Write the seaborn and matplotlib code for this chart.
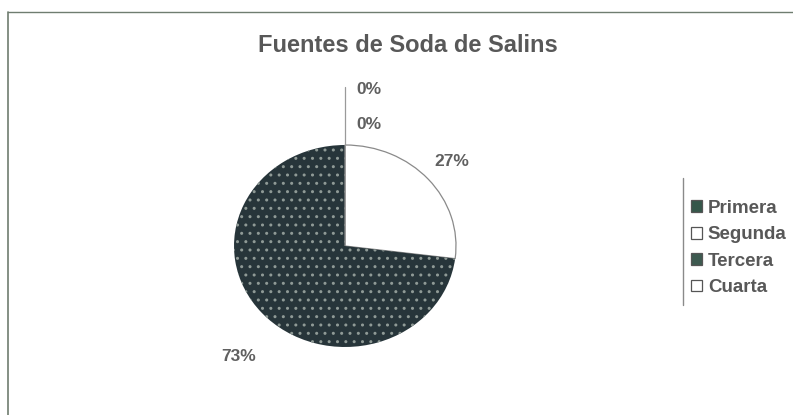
import numpy as np
import matplotlib
matplotlib.use("Agg")
import matplotlib.pyplot as plt
import seaborn as sns
from matplotlib.lines import Line2D
from matplotlib.patches import Patch

categories = ["Primera", "Segunda", "Tercera", "Cuarta"]
values = [0, 27, 73, 0]
slice_colors = ["#2f4a40", "#ffffff", "#27353a", "#ffffff"]
legend_colors = ["#35574a", "#ffffff", "#3d5a50", "#ffffff"]
title = "Fuentes de Soda de Salins"

sns.set_theme(style="white")
plt.rcParams["font.family"] = ["Liberation Sans", "DejaVu Sans"]

W, H = 793, 415
fig = plt.figure(figsize=(W / 100, H / 100), dpi=100)
fig.patch.set_facecolor("white")

# pie axes (elliptical like the reference)
cx, cy, rx, ry = 345, 246, 111, 101
ax = fig.add_axes([(cx - rx) / W, (H - cy - ry) / H, 2 * rx / W, 2 * ry / H])
wedges, _ = ax.pie(values, colors=slice_colors, startangle=90, counterclock=False,
                   radius=1.0, wedgeprops=dict(linewidth=0.9, edgecolor="#8a8a8a"))
for w, c in zip(wedges, slice_colors):
    if c != "#ffffff":
        w.set_hatch("..")
        w.set_edgecolor("#8f9a96")
        w.set_linewidth(0)
ax.set_aspect("auto")
ax.set_xlim(-1, 1)
ax.set_ylim(-1, 1)
ax.axis("off")

# percentage labels
total = sum(values)
zero_offsets = [1.545, 1.2]
zi = 0
cum = 0
lab_kw = dict(fontsize=12.5, color="#606060", fontweight="bold", clip_on=False)
for v in values:
    pct = f"{round(100 * v / total)}%"
    mid = (cum + v / 2) / total * 2 * np.pi
    cum += v
    if v == 0:
        d = zero_offsets[zi % 2]
        zi += 1
        ax.text(0.1, d, pct, ha="left", va="center", **lab_kw)
    else:
        x, y = np.sin(mid), np.cos(mid)
        ax.text(1.28 * x, (1.26 if y > 0 else 1.65) * y, pct,
                ha="center", va="center", **lab_kw)
ax.plot([0, 0], [1.0, 1.57], color="#9a9a9a", lw=0.9, clip_on=False)

fig.text(408 / W, 1 - 45 / H, title, ha="center", va="center", fontsize=17,
         fontweight="bold", color="#585858")

# legend
handles = [Patch(facecolor=c, edgecolor="#555555", linewidth=0.9) for c in legend_colors]
leg = fig.legend(handles, categories, loc="upper left", bbox_to_anchor=(691 / W, 1 - 200 / H),
                 frameon=False, fontsize=13.5, handlelength=0.6, handleheight=0.6,
                 handletextpad=0.3, labelspacing=0.5, borderaxespad=0, borderpad=0)
for t in leg.get_texts():
    t.set_color("#585858")
    t.set_fontweight("bold")
fig.add_artist(Line2D([683 / W, 683 / W], [1 - 178 / H, 1 - 305 / H],
                      transform=fig.transFigure, color="#8a8a8a", lw=1))

# outer frame
fig.add_artist(Line2D([8 / W, 1], [1 - 12 / H, 1 - 12 / H], transform=fig.transFigure,
                      color="#6f7d70", lw=1))
fig.add_artist(Line2D([8 / W, 8 / W], [1 - 12 / H, 0], transform=fig.transFigure,
                      color="#6f7d70", lw=1.2))

fig.savefig("out.png", dpi=100, facecolor="white")
